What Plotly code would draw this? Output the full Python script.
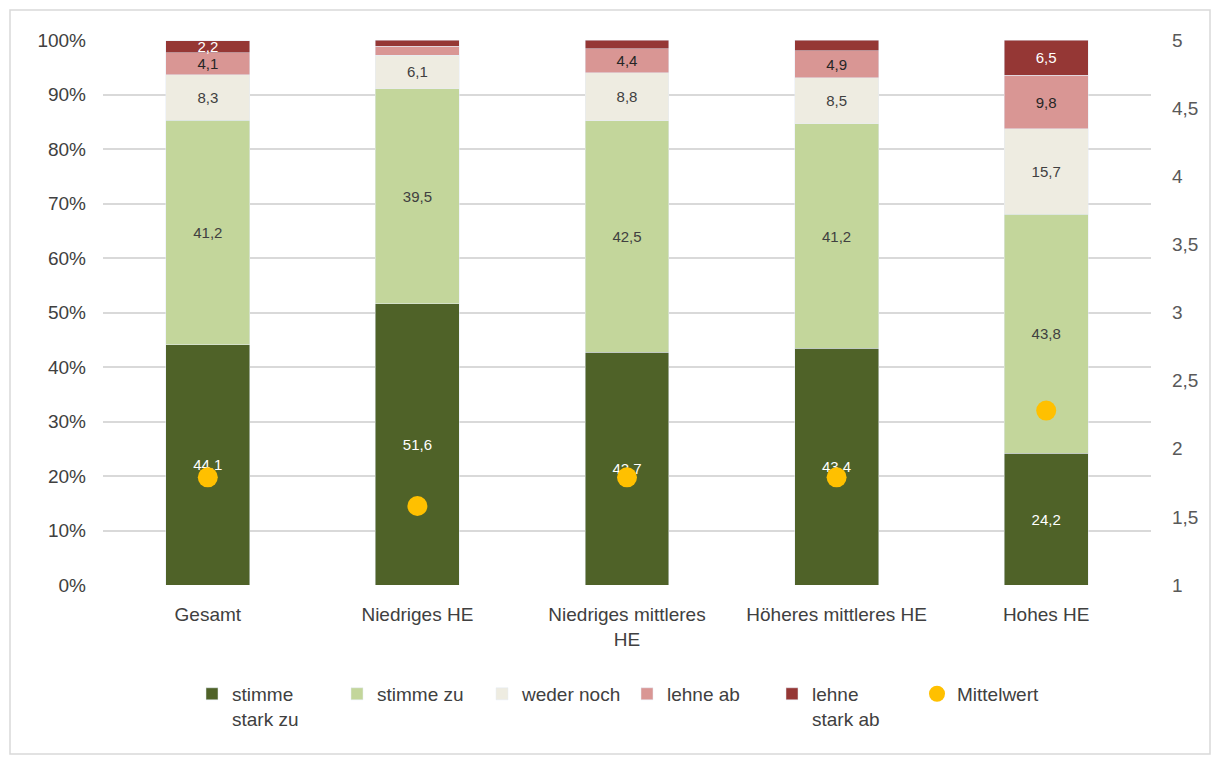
import plotly.graph_objects as go

categories = ["Gesamt", "Niedriges HE", "Niedriges mittleres<br>HE", "Höheres mittleres HE", "Hohes HE"]
stark_zu = [44.1, 51.6, 42.7, 43.4, 24.2]
zu = [41.2, 39.5, 42.5, 41.2, 43.8]
weder = [8.3, 6.1, 8.8, 8.5, 15.7]
lehne_ab = [4.1, 1.7, 4.4, 4.9, 9.8]
stark_ab = [2.2, 1.1, 1.6, 2.0, 6.5]
mittelwert = [1.79, 1.58, 1.79, 1.79, 2.28]

series = [
    ("stimme<br>stark zu", stark_zu, "#4F6228", "white"),
    ("stimme zu", zu, "#C3D69B", "#404040"),
    ("weder noch", weder, "#EEECE1", "#404040"),
    ("lehne ab", lehne_ab, "#D99694", "#262626"),
    ("lehne<br>stark ab", stark_ab, "#953735", "white"),
]

FONT = "Liberation Sans"
W, H = 1204, 747
L, R, T, B = 95, 61, 32, 170
PW, PH = W - L - R, H - T - B

fig = go.Figure()
for name, vals, color, tcolor in series:
    texts = [f"{v:.1f}".replace(".", ",") if v > 2.1 else "" for v in vals]
    fig.add_trace(go.Bar(
        name=name, x=categories, y=vals, marker_color=color,
        text=texts, textposition="inside", insidetextanchor="middle",
        textangle=0, constraintext="none",
        textfont=dict(color=tcolor, size=15, family=FONT),
        hoverinfo="skip",
    ))

fig.add_trace(go.Scatter(
    name="Mittelwert", x=categories, y=mittelwert, yaxis="y2", mode="markers",
    marker=dict(color="#FFC000", size=20, symbol="circle"),
))

fig.update_layout(
    barmode="stack", bargap=0.6,
    width=W, height=H,
    margin=dict(l=L, r=R, t=T, b=B),
    plot_bgcolor="white", paper_bgcolor="white",
    separators=",.",
    font=dict(family=FONT, size=19, color="#404040"),
    xaxis=dict(showgrid=False, showline=False, ticks="", ticklabelstandoff=16,
               tickfont=dict(size=19, color="#404040")),
    yaxis=dict(range=[0, 100], dtick=10, ticksuffix="%", showgrid=True, gridcolor="#D9D9D9",
               gridwidth=1.5, zeroline=False, ticks="", ticklabelstandoff=16,
               tickfont=dict(size=19, color="#404040")),
    yaxis2=dict(range=[1, 5], dtick=0.5, overlaying="y", side="right", showgrid=False,
                zeroline=False, tickformat=".1~f", ticks="", ticklabelstandoff=20,
                tickfont=dict(size=19, color="#595959")),
    legend=dict(orientation="h", x=0.5, xanchor="center", y=-0.165, yanchor="top",
                font=dict(size=19, color="#404040"), traceorder="normal", valign="top",
                entrywidth=100, entrywidthmode="pixels"),
    showlegend=True,
    shapes=[dict(type="rect", xref="paper", yref="paper",
                 x0=(2 - L) / PW, x1=(1202 - L) / PW,
                 y0=(PH + T - 746) / PH, y1=(PH + T - 2) / PH,
                 line=dict(color="#D9D9D9", width=1.5), fillcolor="rgba(0,0,0,0)", layer="below")],
)

fig.write_html("out.html")
